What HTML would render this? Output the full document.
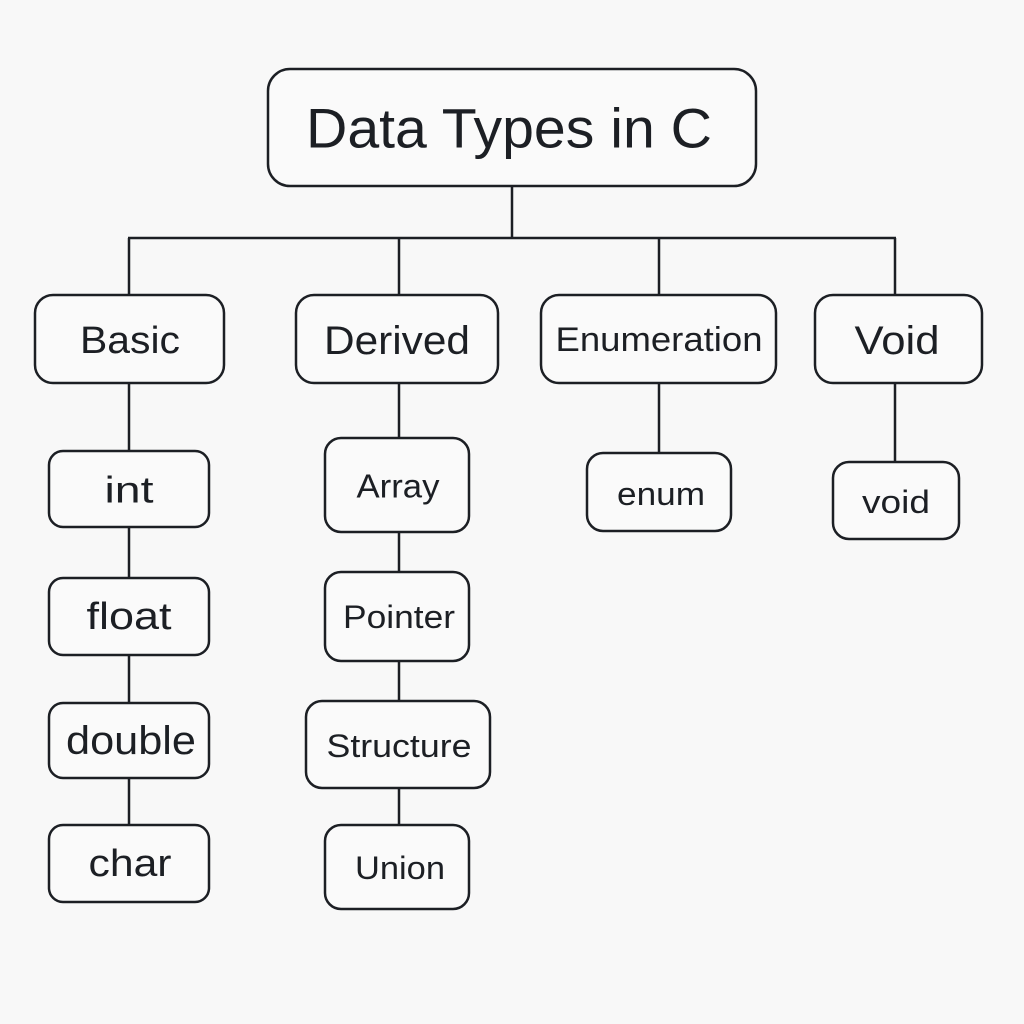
<!DOCTYPE html>
<html><head><meta charset="utf-8"><style>
html,body{margin:0;padding:0;background:#f8f8f8;}
svg{display:block;}
text{font-family:"Liberation Sans","DejaVu Sans",sans-serif;fill:#1c1f24;text-anchor:middle;dominant-baseline:central;}
rect{fill:#fafafa;stroke:#1c1f24;stroke-width:2.5;}
line{stroke:#1c1f24;stroke-width:2.5;}
</style></head><body>
<svg width="1024" height="1024" viewBox="0 0 1024 1024">
<rect x="0" y="0" width="1024" height="1024" style="fill:#f8f8f8;stroke:none"/>
<line x1="512" y1="186" x2="512" y2="238"/>
<line x1="128" y1="238" x2="896" y2="238"/>
<line x1="129" y1="238" x2="129" y2="295"/>
<line x1="399" y1="238" x2="399" y2="295"/>
<line x1="659" y1="238" x2="659" y2="295"/>
<line x1="895" y1="238" x2="895" y2="295"/>
<line x1="129" y1="383" x2="129" y2="825"/>
<line x1="399" y1="383" x2="399" y2="825"/>
<line x1="659" y1="383" x2="659" y2="453"/>
<line x1="895" y1="383" x2="895" y2="462"/>

<rect x="268" y="69" width="488" height="117" rx="22"/>
<text x="509" y="128" font-size="56" textLength="406" lengthAdjust="spacingAndGlyphs">Data Types in C</text>

<rect x="35" y="295" width="189" height="88" rx="18"/>
<text x="130" y="341" font-size="38" textLength="100" lengthAdjust="spacingAndGlyphs">Basic</text>
<rect x="296" y="295" width="202" height="88" rx="18"/>
<text x="397" y="341" font-size="40" textLength="146" lengthAdjust="spacingAndGlyphs">Derived</text>
<rect x="541" y="295" width="235" height="88" rx="18"/>
<text x="659" y="340" font-size="34" textLength="207" lengthAdjust="spacingAndGlyphs">Enumeration</text>
<rect x="815" y="295" width="167" height="88" rx="18"/>
<text x="897" y="341" font-size="40" textLength="85" lengthAdjust="spacingAndGlyphs">Void</text>

<rect x="49" y="451" width="160" height="76" rx="14"/>
<text x="129" y="490" font-size="37" textLength="49" lengthAdjust="spacingAndGlyphs">int</text>
<rect x="49" y="578" width="160" height="77" rx="14"/>
<text x="129" y="617" font-size="38" textLength="85" lengthAdjust="spacingAndGlyphs">float</text>
<rect x="49" y="703" width="160" height="75" rx="14"/>
<text x="131" y="741" font-size="40" textLength="130" lengthAdjust="spacingAndGlyphs">double</text>
<rect x="49" y="825" width="160" height="77" rx="14"/>
<text x="130" y="864" font-size="38" textLength="83" lengthAdjust="spacingAndGlyphs">char</text>

<rect x="325" y="438" width="144" height="94" rx="16"/>
<text x="398" y="486" font-size="33" textLength="83" lengthAdjust="spacingAndGlyphs">Array</text>
<rect x="325" y="572" width="144" height="89" rx="16"/>
<text x="399" y="617" font-size="32" textLength="112" lengthAdjust="spacingAndGlyphs">Pointer</text>
<rect x="306" y="701" width="184" height="87" rx="16"/>
<text x="399" y="746" font-size="32" textLength="145" lengthAdjust="spacingAndGlyphs">Structure</text>
<rect x="325" y="825" width="144" height="84" rx="16"/>
<text x="400" y="868" font-size="32" textLength="90" lengthAdjust="spacingAndGlyphs">Union</text>

<rect x="587" y="453" width="144" height="78" rx="16"/>
<text x="661" y="494" font-size="32" textLength="88" lengthAdjust="spacingAndGlyphs">enum</text>
<rect x="833" y="462" width="126" height="77" rx="16"/>
<text x="896" y="502" font-size="32" textLength="68" lengthAdjust="spacingAndGlyphs">void</text>
</svg>
</body></html>
